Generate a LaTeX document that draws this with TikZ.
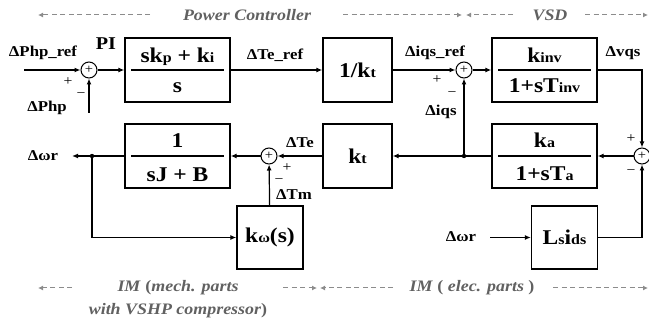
\documentclass[tikz,border=0pt]{standalone}
\usepackage{fontspec}
\setmainfont[FakeStretch=1.12]{Liberation Serif}
\usepackage{graphicx}
\usepackage{xcolor}
\usetikzlibrary{arrows.meta,positioning}

\newcommand{\sub}[1]{\scalebox{0.68}{#1}}
\newcommand{\lblsize}{\fontsize{15}{17}\selectfont\bfseries}
\newcommand{\boxsize}{\fontsize{21}{24}\selectfont\bfseries}
\newcommand{\notesize}{\fontsize{16}{23}\selectfont\bfseries\itshape}
\definecolor{notegray}{gray}{0.38}
\definecolor{guidegray}{gray}{0.55}

\begin{document}
\begin{tikzpicture}[x=1pt, y=-1pt,
      block/.style = {draw, line width=1.3pt, minimum width=105pt,
                      minimum height=64pt, inner sep=0pt, font=\boxsize},
      gain/.style  = {block, minimum width=69pt},
      small/.style = {block, minimum width=66pt, minimum height=63pt},
      sum/.style   = {draw, circle, line width=1pt, minimum size=16pt,
                      inner sep=0pt, font=\fontsize{13}{13}\selectfont},
      lbl/.style   = {inner sep=0pt, font=\lblsize},
      txt/.style   = {inner sep=0pt, font=\boxsize, anchor=base},
      sgn/.style   = {inner sep=0pt, font=\fontsize{14}{14}\selectfont},
      note/.style  = {inner sep=0pt, text=notegray, font=\notesize, align=center},
      arrow/.style = {-{Latex[length=6pt,width=5pt]}, line width=1.2pt},
      guide/.style = {-{Latex[length=5pt,width=5pt]}, line width=1pt,
                      guidegray, dash pattern=on 5pt off 3.5pt},
      frac/.style  = {line width=1.2pt}
    ]
    \useasboundingbox (0,0) rectangle (649,320);

    % upper row
    \node[sum]   (s1)    at (89,70)     {+};
    \node[block] (pi)    at (177.5,70)  {};
    \node[gain]  (invkt) at (357.5,70)  {1/k\sub{t}};
    \node[sum]   (s2)    at (464,70)    {+};
    \node[block] (inv)   at (544.5,70)  {};

    % lower row
    \node[sum]   (s3)    at (642,156)   {+};
    \node[block] (ka)    at (544.5,156) {};
    \node[gain]  (kt)    at (357.5,156) {k\sub{t}};
    \node[sum]   (s4)    at (269,156)   {+};
    \node[block] (mech)  at (177.5,156) {};
    \node[small] (kw)    at (270,237.5) {k\sub{ω}(s)};
    \node[small] (ls)    at (564.5,237.5) {L\sub{s}i\sub{ds}};

    % fractions
    \node[txt] (pinum)   at (177.5,63)  {sk\sub{p} + k\sub{i}};
    \node[txt] (piden)   at (177.5,93)  {s};
    \node[txt] (invnum)  at (544.5,63)  {k\sub{inv}};
    \node[txt] (invden)  at (544.5,93)  {1+sT\sub{inv}};
    \node[txt] (kanum)   at (544.5,148) {k\sub{a}};
    \node[txt] (kaden)   at (544.5,181) {1+sT\sub{a}};
    \node[txt] (mechnum) at (177.5,148) {1};
    \node[txt] (mechden) at (177.5,182) {sJ + B};
    \foreach \b in {pi,inv,ka,mech}
      \draw[frac] ([xshift=7pt]\b.west) -- ([xshift=-7pt]\b.east);

    % signal labels
    \node[lbl] (phpref) at (43,53)   {ΔPhp\_ref};
    \node[lbl, font=\fontsize{18}{20}\selectfont\bfseries] (piname) at (106,44) {PI};
    \node[lbl] (php)    at (47,108)  {ΔPhp};
    \node[lbl] (teref)  at (275,55)  {ΔTe\_ref};
    \node[lbl] (iqsref) at (435,53)  {Δiqs\_ref};
    \node[lbl] (iqs)    at (441,112) {Δiqs};
    \node[lbl] (vqs)    at (623,53)  {Δvqs};
    \node[lbl] (te)     at (300,143) {ΔTe};
    \node[lbl] (tm)     at (294,195) {ΔTm};
    \node[lbl] (wr1)    at (43,156)  {Δωr};
    \node[lbl] (wr2)    at (461,237) {Δωr};

    % signs
    \node[sgn] (p1) at (68,82)   {+};
    \node[sgn] (m1) at (81,95)   {−};
    \node[sgn] (p2) at (437,80)  {+};
    \node[sgn] (m2) at (452,94)  {−};
    \node[sgn] (p3) at (631,139) {+};
    \node[sgn] (m3) at (631,172) {−};
    \node[sgn] (p4) at (287,168) {+};
    \node[sgn] (m4) at (279,181) {−};

    % free ends and branch points
    \coordinate (in1)  at (24,70);
    \coordinate (in2)  at (89,113);
    \coordinate (d1)   at (92,156);
    \coordinate (d2)   at (464,156);
    \coordinate (wout) at (72,156);
    \coordinate (win)  at (490,237.5);

    \draw[arrow] (in1) -- (s1);
    \draw[arrow] (in2) -- (s1);
    \draw[arrow] (s1) -- (pi);
    \draw[arrow] (pi) -- (invkt);
    \draw[arrow] (invkt) -- (s2);
    \draw[arrow] (s2) -- (inv);
    \draw[arrow] (inv.east) -| (s3.north);
    \draw[arrow] (ls.east) -| (s3.south);
    \draw[arrow] (s3) -- (ka);
    \draw[arrow] (ka) -- (kt);
    \draw[arrow] (d2) -- (s2);
    \draw[arrow] (kt) -- (s4);
    \draw[arrow] (s4) -- (mech);
    \draw[arrow] (mech.west) -- (wout);
    \draw[arrow] (d1) |- (kw.west);
    \draw[arrow] (kw) -- (s4);
    \draw[arrow] (win) -- (ls);
    \fill (d1) circle (2.2pt);
    \fill (d2) circle (2.2pt);

    % section marks
    \node[note] (pc)  at (247,15)  {Power Controller};
    \node[note] (vsd) at (550,15)  {VSD};
    \node[note] (imm) at (178,299.5) {IM \textup{(}mech. parts\\with VSHP compressor\textup{)}};
    \node[note] (ime) at (472,288) {IM \textup{(} elec. parts \textup{)}};
    \draw[guide] (150,15) -- (38,15);
    \draw[guide] (343,15) -- (462,15);
    \draw[guide] (513,15) -- (466,15);
    \draw[guide] (585,15) -- (648,15);
    \draw[guide] (72,288) -- (38,288);
    \draw[guide] (283,288) -- (317,288);
    \draw[guide] (393,288) -- (320,288);
    \draw[guide] (553,288) -- (648,288);
  \end{tikzpicture}
\end{document}
